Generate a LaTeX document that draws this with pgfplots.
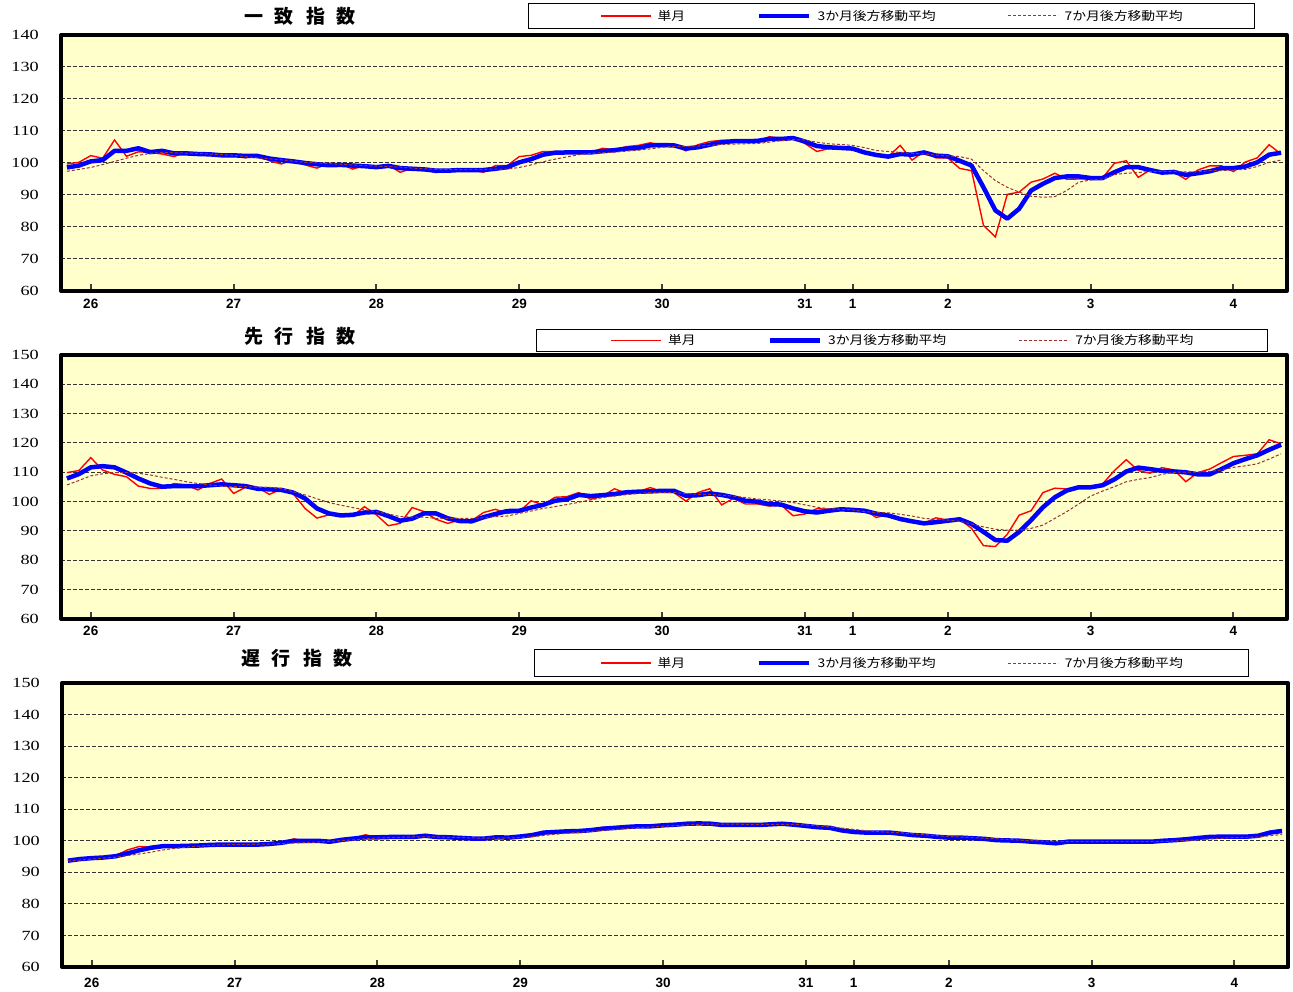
\documentclass[border=0pt]{standalone}
\usepackage{fontspec}
\setmainfont{Liberation Serif}
\setsansfont{Liberation Sans}
\newfontfamily\cjk{Noto Sans CJK JP}
\newfontfamily\ylab[FakeStretch=1.3]{Liberation Serif}
\newfontfamily\legfont[FakeStretch=1.15]{Noto Sans CJK JP}
\usepackage{pgfplots}
\usepackage{pgfplotstable}
\pgfplotsset{compat=1.18}
\definecolor{bgyellow}{HTML}{FFFFCC}
\definecolor{dashred}{RGB}{153,51,51}

\pgfplotstableread{
i r b d
0 99.7 98.6 97.4
1 100.2 99.2 98.0
2 102.3 100.5 98.6
3 101.5 100.9 99.5
4 107.2 103.8 100.5
5 102.1 103.8 101.5
6 103.5 104.6 102.4
7 103.3 103.4 103.0
8 102.8 103.8 103.3
9 102.0 103.0 103.2
10 103.5 103.0 103.1
11 102.8 102.8 103.0
12 102.8 102.7 102.8
13 102.4 102.4 102.6
14 102.4 102.4 102.4
15 101.6 102.2 102.0
16 102.6 102.2 101.6
17 100.7 101.4 101.3
18 99.7 100.9 101.0
19 100.9 100.5 100.6
20 99.4 100.0 100.2
21 98.4 99.6 100.0
22 99.9 99.3 99.8
23 99.7 99.4 99.6
24 98.1 99.2 99.4
25 99.2 99.0 99.2
26 98.7 98.7 99.0
27 99.3 99.1 98.9
28 97.1 98.4 98.7
29 98.3 98.2 98.4
30 97.9 98.0 98.2
31 97.0 97.6 98.0
32 97.6 97.6 97.9
33 98.1 97.8 97.9
34 97.8 97.8 98.0
35 97.1 97.8 98.0
36 99.2 98.2 98.1
37 99.2 98.7 98.1
38 102.0 100.2 98.6
39 102.4 101.2 99.4
40 103.6 102.6 100.4
41 103.6 103.2 101.2
42 103.3 103.3 101.9
43 103.3 103.3 102.6
44 103.3 103.3 103.0
45 104.6 103.7 103.2
46 104.1 104.0 103.4
47 105.1 104.5 103.7
48 105.5 104.7 104.0
49 106.3 105.5 104.4
50 105.7 105.6 104.9
51 105.5 105.5 105.2
52 103.8 104.5 105.2
53 105.7 104.9 105.3
54 106.7 105.7 105.5
55 107.1 106.5 105.8
56 107.0 106.8 105.9
57 107.0 106.8 106.0
58 106.7 106.9 106.1
59 108.2 107.5 106.5
60 107.7 107.5 107.0
61 107.8 107.8 107.3
62 106.1 106.7 107.2
63 103.6 105.3 106.5
64 104.5 104.9 106.0
65 104.7 104.7 105.8
66 104.2 104.5 105.5
67 103.1 103.3 104.8
68 102.3 102.5 103.9
69 102.0 102.0 103.6
70 105.5 102.8 103.3
71 100.9 102.6 103.0
72 103.6 103.3 102.8
73 101.6 102.3 102.5
74 101.6 102.1 102.2
75 98.3 100.7 102.0
76 97.6 99.2 101.2
77 80.5 92.4 97.6
78 76.9 85.2 94.5
79 90.2 82.6 92.4
80 90.9 85.7 90.9
81 94.0 91.4 89.6
82 95.0 93.5 89.3
83 96.8 95.3 89.5
84 94.9 95.8 91.4
85 95.0 95.8 94.0
86 95.0 95.3 94.7
87 95.3 95.3 95.0
88 99.9 97.1 96.4
89 100.7 98.7 96.8
90 95.5 98.7 97.0
91 97.8 97.8 97.4
92 97.4 97.0 97.4
93 97.1 97.2 97.4
94 94.9 96.3 97.2
95 97.8 96.8 97.2
96 99.1 97.4 97.6
97 99.1 98.4 97.6
98 97.3 98.4 97.8
99 100.3 98.9 98.0
100 101.6 100.2 98.9
101 105.7 102.6 100.2
102 102.8 103.2 100.9
}\tabA

\pgfplotstableread{
i r b d
0 109.9 107.9 105.7
1 110.6 109.4 107.2
2 115.0 111.7 108.8
3 110.8 112.1 109.5
4 109.3 111.7 109.9
5 108.5 109.9 109.9
6 105.3 107.9 109.7
7 104.5 106.2 109.1
8 104.5 105.1 108.3
9 106.2 105.3 107.6
10 105.7 105.3 106.8
11 104.0 105.3 106.2
12 106.2 105.6 105.7
13 107.7 105.9 105.3
14 102.8 105.6 105.1
15 104.9 105.3 105.1
16 104.9 104.4 104.9
17 102.5 104.2 104.9
18 104.2 104.0 104.4
19 102.8 103.1 103.4
20 97.7 101.1 102.3
21 94.4 97.7 101.0
22 95.5 96.0 99.7
23 95.2 95.3 98.8
24 95.1 95.5 98.0
25 98.3 96.3 97.2
26 95.5 96.5 96.6
27 91.8 95.1 95.8
28 92.6 93.5 94.9
29 98.0 94.2 94.7
30 96.6 96.0 94.7
31 94.0 96.0 94.3
32 92.6 94.3 94.3
33 93.8 93.4 94.3
34 93.5 93.3 94.3
35 96.3 94.7 94.5
36 97.4 95.8 94.9
37 96.0 96.8 95.1
38 96.6 96.9 96.0
39 100.3 98.0 96.8
40 98.9 98.9 97.7
41 101.5 100.3 98.3
42 101.7 100.8 99.0
43 103.1 102.3 99.8
44 100.8 101.9 100.6
45 101.9 102.2 101.4
46 104.4 102.6 101.9
47 102.8 103.2 102.4
48 103.4 103.4 102.8
49 104.8 103.5 103.1
50 103.4 103.7 103.1
51 103.1 103.7 103.1
52 100.2 102.0 102.8
53 103.1 102.2 102.5
54 104.4 102.8 102.5
55 98.9 102.3 102.2
56 101.1 101.5 101.9
57 99.2 100.3 101.4
58 99.2 100.0 100.9
59 98.5 99.2 100.6
60 98.9 99.0 100.2
61 95.2 97.7 99.7
62 95.8 96.7 98.9
63 97.6 96.3 98.1
64 97.4 96.9 97.6
65 97.2 97.4 97.4
66 97.2 97.2 97.2
67 97.2 96.9 96.6
68 94.6 95.9 96.3
69 95.7 95.3 96.2
70 93.7 94.1 95.7
71 92.9 93.3 95.1
72 92.6 92.6 94.3
73 94.5 93.0 94.0
74 93.7 93.5 93.7
75 94.0 94.0 93.3
76 90.9 92.4 92.4
77 85.0 89.7 91.4
78 84.7 86.9 90.6
79 88.9 86.7 90.3
80 95.4 89.7 90.3
81 96.9 93.7 90.9
82 103.1 98.1 92.0
83 104.6 101.5 94.3
84 104.3 103.8 96.6
85 105.1 104.9 99.2
86 105.1 104.9 101.9
87 106.0 105.6 103.6
88 110.6 107.6 105.1
89 114.3 110.3 106.8
90 110.6 111.6 107.6
91 109.7 111.1 108.2
92 111.6 110.5 109.3
93 110.8 110.3 110.0
94 106.8 110.0 110.1
95 109.9 109.3 110.1
96 111.1 109.3 110.3
97 113.3 111.1 110.8
98 115.4 113.1 111.7
99 115.8 114.5 112.2
100 116.3 115.8 112.9
101 121.1 117.7 114.5
102 119.7 119.4 116.3
}\tabB

\pgfplotstableread{
i r b d
0 93.6 93.7 93.6
1 94.3 94.2 93.9
2 94.6 94.5 94.2
3 94.8 94.7 94.5
4 95.3 95.1 94.8
5 97.1 96.0 95.3
6 98.2 97.0 95.8
7 97.9 97.8 96.4
8 98.2 98.3 97.1
9 98.4 98.3 97.6
10 98.5 98.4 98.0
11 98.6 98.5 98.3
12 98.8 98.7 98.6
13 98.7 98.8 98.7
14 98.9 98.8 98.8
15 98.8 98.8 98.8
16 98.9 98.8 98.9
17 99.1 99.0 99.0
18 99.6 99.4 99.1
19 100.6 100.0 99.3
20 99.8 100.0 99.4
21 99.7 100.0 99.6
22 99.5 99.7 99.8
23 100.6 100.3 100.1
24 100.9 100.7 100.3
25 101.9 101.1 100.6
26 101.0 101.1 100.9
27 101.3 101.2 101.0
28 101.3 101.2 101.1
29 101.1 101.2 101.2
30 101.8 101.6 101.2
31 101.1 101.2 101.2
32 101.0 101.1 101.1
33 100.8 100.9 101.0
34 100.6 100.7 100.9
35 100.8 100.7 100.8
36 101.2 101.1 100.8
37 100.9 101.0 100.9
38 101.6 101.35 101.0
39 102.0 101.8 101.3
40 102.8 102.6 101.7
41 102.7 102.8 102.1
42 103.2 103.0 102.4
43 103.0 103.1 102.7
44 103.7 103.4 103.0
45 104.3 103.85 103.3
46 104.2 104.1 103.6
47 104.5 104.4 103.9
48 104.6 104.6 104.2
49 104.7 104.6 104.4
50 105.0 104.9 104.6
51 105.2 105.1 104.8
52 105.5 105.4 105.0
53 105.5 105.5 105.2
54 105.3 105.4 105.3
55 104.9 105.0 105.3
56 105.0 105.0 105.3
57 105.1 105.0 105.2
58 104.9 105.0 105.2
59 105.4 105.2 105.2
60 105.5 105.4 105.2
61 105.0 105.1 105.2
62 104.6 104.7 105.0
63 104.2 104.3 104.7
64 104.0 104.1 104.4
65 102.9 103.3 104.0
66 102.7 102.8 103.6
67 102.5 102.6 103.2
68 102.6 102.6 102.9
69 102.4 102.6 102.7
70 102.0 102.2 102.5
71 101.7 101.8 102.2
72 101.6 101.6 101.9
73 101.1 101.25 101.6
74 101.0 101.0 101.4
75 100.9 101.0 101.2
76 100.6 100.8 101.0
77 100.7 100.6 100.8
78 100.1 100.2 100.6
79 100.0 100.1 100.4
80 100.0 100.0 100.2
81 99.6 99.7 100.0
82 99.5 99.5 99.9
83 99.0 99.2 99.8
84 99.8 99.7 99.7
85 99.7 99.7 99.7
86 99.7 99.7 99.7
87 99.6 99.7 99.7
88 99.7 99.7 99.7
89 99.8 99.7 99.7
90 99.7 99.7 99.7
91 99.6 99.7 99.7
92 100.1 100.0 99.8
93 100.2 100.2 99.9
94 100.6 100.5 100.1
95 100.9 100.9 100.3
96 101.3 101.25 100.6
97 101.2 101.3 100.8
98 100.8 101.3 101.0
99 101.4 101.3 101.1
100 101.5 101.6 101.2
101 103.0 102.6 101.6
102 103.5 103.1 102.0
}\tabC

\pgfplotsset{
  legend image code/.code={\draw[#1] (0pt,0pt) -- (50pt,0pt);},
  panel/.style={
    scale only axis, width=1226pt,
    xmin=-0.5, xmax=102.5, ymin=60,
    axis background/.style={fill=bgyellow},
    axis line style={line width=4pt, black, line join=round},
    xtick={2,14,26,38,50,62,66,74,86,98},
    xticklabels={\textbf{26},\textbf{27},\textbf{28},\textbf{29},\textbf{30},\textbf{31},\textbf{1},\textbf{2},\textbf{3},\textbf{4}},
    xtick pos=left, tick align=inside,
    major tick length=7pt,
    xtick style={line width=2pt, black!75},
    ytick style={draw=none},
    ymajorgrids,
    major grid style={black!80, line width=1pt, dash pattern=on 4pt off 2pt},
    /pgf/number format/assume math mode=true,
    yticklabel style={font=\ylab\fontsize{14}{14}\selectfont, anchor=east, inner sep=0pt, xshift=-22pt},
    xticklabel style={font=\sffamily\bfseries\fontsize{13.5}{13.5}\selectfont, anchor=base, inner sep=0pt, yshift=-18pt},
    legend columns=3,
    legend cell align=left,
    legend style={draw=black, line width=1pt, fill=white,
      font=\legfont\fontsize{12}{12}\selectfont, anchor=center,
      inner xsep=72pt, inner ysep=5.5pt,
      nodes={inner xsep=0pt, inner ysep=1pt},
      /tikz/every odd column/.append style={column sep=6pt},
      /tikz/every even column/.append style={column sep=72pt}},
  },
  sred/.style={color=red, line width=1.4pt, no markers},
  sblue/.style={color=blue, line width=4.5pt, no markers, line join=round},
  sdash/.style={color=dashred, line width=1pt, no markers, dash pattern=on 3pt off 2pt},
}

\begin{document}
\begin{tikzpicture}
\useasboundingbox (0pt,0pt) rectangle (1293pt,992pt);

% Panel 1
\begin{axis}[panel, at={(61pt,701pt)}, anchor=south west, height=256pt,
  ymax=140, ytick={60,70,...,140},
  legend style={at={(0.6774,1.0742)}}]
\addplot[sred] table[x=i,y=r] {\tabA};
\addplot[sblue] table[x=i,y=b] {\tabA};
\addplot[sdash] table[x=i,y=d] {\tabA};
\legend{単月,3か月後方移動平均,7か月後方移動平均}
\end{axis}

% Panel 2
\begin{axis}[panel, at={(61pt,373pt)}, anchor=south west, height=264pt,
  ymax=150, ytick={60,70,...,150},
  xticklabel style={yshift=1pt},
  legend style={at={(0.686,1.0549)}, inner xsep=74pt, inner ysep=4pt}]
\addplot[sred] table[x=i,y=r] {\tabB};
\addplot[sblue] table[x=i,y=b] {\tabB};
\addplot[sdash] table[x=i,y=d] {\tabB};
\legend{単月,3か月後方移動平均,7か月後方移動平均}
\end{axis}

% Panel 3
\begin{axis}[panel, at={(62pt,25pt)}, anchor=south west, height=284pt,
  ymax=150, ytick={60,70,...,150},
  xticklabel style={yshift=-3pt},
  legend style={at={(0.6766,1.0704)}, inner xsep=66pt, inner ysep=6.5pt}]
\addplot[sred] table[x=i,y=r] {\tabC};
\addplot[sblue] table[x=i,y=b] {\tabC};
\addplot[sdash] table[x=i,y=d] {\tabC};
\legend{単月,3か月後方移動平均,7か月後方移動平均}
\end{axis}

\node[font=\cjk\bfseries\fontsize{19}{19}\selectfont] at (300pt,976pt) {一\hspace{12pt}致\hspace{12pt}指\hspace{12pt}数};
\node[font=\cjk\bfseries\fontsize{19}{19}\selectfont] at (300pt,656pt) {先\hspace{12pt}行\hspace{12pt}指\hspace{12pt}数};
\node[font=\cjk\bfseries\fontsize{19}{19}\selectfont] at (297pt,334pt) {遅\hspace{12pt}行\hspace{12pt}指\hspace{12pt}数};
\end{tikzpicture}
\end{document}
